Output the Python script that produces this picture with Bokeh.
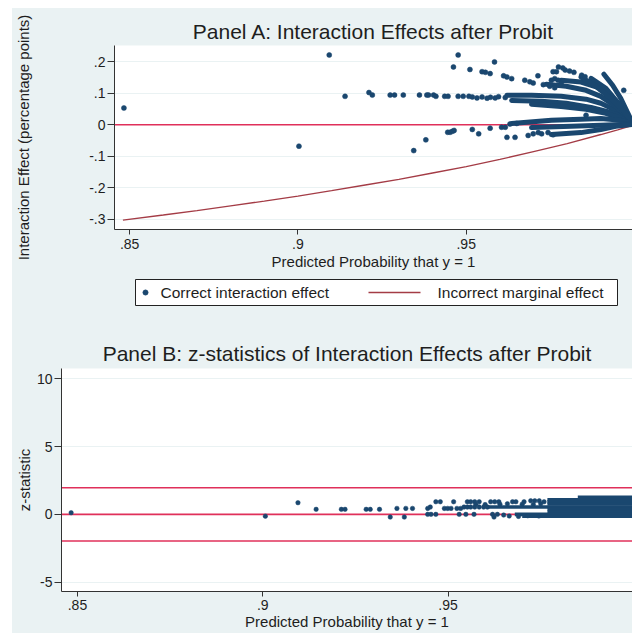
from bokeh.plotting import figure
from bokeh.layouts import column, row
from bokeh.models import Range1d, FixedTicker, Span, Spacer
from bokeh.core.properties import value
from bokeh.embed import file_html
from bokeh.resources import INLINE

# ---------------- data ----------------
x_ticks = [0.85, 0.9, 0.95, 1.0]
x_tick_labels = [".85", ".9", ".95", "1"]
a_y_ticks = [-0.3, -0.2, -0.1, 0.0, 0.1, 0.2]
a_y_tick_labels = ["-.3", "-.2", "-.1", "0", ".1", ".2"]
b_y_ticks = [-5, 0, 5, 10]
b_y_tick_labels = ["-5", "0", "5", "10"]

titles = ["Panel A: Interaction Effects after Probit",
          "Panel B: z-statistics of Interaction Effects after Probit"]
x_title = "Predicted Probability that y = 1"
a_y_title = "Interaction Effect (percentage points)"
b_y_title = "z-statistic"
legend_labels = ["Correct interaction effect", "Incorrect marginal effect"]

# Panel A: correct interaction effect (sparse points)
a_x = [0.8483, 0.9003, 0.9093, 0.9140, 0.9211, 0.9221, 0.9274, 0.9287, 0.9313, 0.9361,
       0.9383, 0.9388, 0.9403, 0.9410, 0.9436, 0.9446, 0.9476, 0.9491, 0.9508, 0.9462,
       0.9476, 0.9511, 0.9344, 0.9380, 0.9445, 0.9452, 0.9459, 0.9464, 0.9547, 0.9557,
       0.9571, 0.9584, 0.9611, 0.9621, 0.9635, 0.9674, 0.9689, 0.9699, 0.9713, 0.9729,
       0.9748, 0.9763, 0.9753, 0.9763, 0.9758, 0.9774, 0.9787, 0.9794, 0.9807, 0.9820,
       0.9843, 0.9853, 0.9968, 0.9856, 0.9518, 0.9532, 0.9547, 0.9562, 0.9572, 0.9586,
       0.9596, 0.9616, 0.9518, 0.9537, 0.9571, 0.9605, 0.9616, 0.9621, 0.9645, 0.9684,
       0.9699, 0.9714, 0.9724, 0.9743, 0.9758, 0.9630, 0.9650, 0.9768, 0.9773, 0.9782]
a_y = [0.053, -0.068, 0.221, 0.090, 0.102, 0.094, 0.094, 0.094, 0.094, 0.094,
       0.094, 0.094, 0.094, 0.090, 0.090, 0.090, 0.090, 0.090, 0.090, 0.183,
       0.221, 0.175, -0.082, -0.048, -0.024, -0.024, -0.021, -0.018, 0.168, 0.166,
       0.162, 0.199, 0.155, 0.151, 0.146, 0.141, 0.136, 0.132, 0.155, 0.127,
       0.122, 0.117, 0.141, 0.146, 0.168, 0.183, 0.180, 0.173, 0.170, 0.166,
       0.157, 0.152, 0.109, 0.030, 0.088, 0.085, 0.088, 0.084, 0.087, 0.085,
       0.089, 0.086, -0.015, -0.029, -0.011, -0.008, -0.008, -0.040, -0.040, -0.034,
       -0.029, -0.025, -0.029, -0.025, -0.032, 0.002, 0.004, 0.168, 0.141, 0.131]

# Panel A: dense fan of interaction effects near p = 1 (traced bands)
fan_x = [
    [0.9621, 0.9694, 0.9782, 0.9856, 0.9900, 0.9944, 0.9974, 0.9994],
    [0.9635, 0.9724, 0.9797, 0.9871, 0.9929, 0.9974, 0.9994],
    [0.9694, 0.9782, 0.9856, 0.9915, 0.9959, 0.9994],
    [0.9738, 0.9797, 0.9856, 0.9900, 0.9944, 0.9974, 0.9994],
    [0.9782, 0.9841, 0.9900, 0.9944, 0.9974, 0.9994],
    [0.9909, 0.9935, 0.9959, 0.9979, 0.9994],
    [0.9871, 0.9915, 0.9950, 0.9976, 0.9994],
    [0.9841, 0.9885, 0.9929, 0.9965, 0.9994],
    [0.9635, 0.9753, 0.9841, 0.9900, 0.9959, 0.9994],
    [0.9694, 0.9812, 0.9900, 0.9959, 0.9994],
    [0.9753, 0.9841, 0.9900, 0.9944, 0.9994],
]
fan_y = [
    [0.093, 0.093, 0.090, 0.081, 0.068, 0.046, 0.026, 0.004],
    [0.077, 0.074, 0.068, 0.055, 0.039, 0.020, 0.004],
    [0.065, 0.058, 0.049, 0.036, 0.020, 0.004],
    [0.128, 0.122, 0.109, 0.090, 0.058, 0.030, 0.004],
    [0.141, 0.135, 0.115, 0.077, 0.039, 0.004],
    [0.160, 0.125, 0.084, 0.039, 0.007],
    [0.147, 0.115, 0.071, 0.033, 0.007],
    [0.151, 0.122, 0.084, 0.046, 0.007],
    [0.004, 0.014, 0.017, 0.020, 0.014, 0.004],
    [-0.009, -0.005, -0.002, 0.001, 0.002],
    [-0.031, -0.025, -0.015, -0.005, 0.001],
]

# Panel A: incorrect marginal effect
me_x = [0.848, 0.86, 0.87, 0.88, 0.89, 0.90, 0.91, 0.92, 0.93, 0.94,
        0.95, 0.96, 0.97, 0.98, 0.99, 0.995, 1.0]
me_y = [-0.302, -0.286, -0.272, -0.257, -0.242, -0.226, -0.209, -0.191, -0.173, -0.153,
        -0.133, -0.110, -0.085, -0.060, -0.031, -0.016, 0.0]
a_ref_lines = [0.0]

# Panel B: z-statistics (sparse points)
b_x = [0.8483, 0.9007, 0.9095, 0.9144, 0.9212, 0.9222, 0.9279, 0.9290, 0.9315, 0.9344,
       0.9362, 0.9382, 0.9386, 0.9404, 0.9445, 0.9452, 0.9445, 0.9454, 0.9467, 0.9467,
       0.9479, 0.9490, 0.9499, 0.9508, 0.9515, 0.9524, 0.9534, 0.9530, 0.9548, 0.9570,
       0.9552, 0.9561, 0.9572, 0.9584, 0.9543, 0.9552, 0.9561, 0.9572, 0.9584, 0.9596,
       0.9606, 0.9615, 0.9626, 0.9637, 0.9620, 0.9624, 0.9633, 0.9674, 0.9683, 0.9705,
       0.9723, 0.9734, 0.9746, 0.9759, 0.9575, 0.9600, 0.9640, 0.9660, 0.9700, 0.9730,
       0.9750, 0.9650, 0.9665, 0.9690, 0.9715, 0.9745]
b_z = [0.12, -0.13, 0.86, 0.37, 0.37, 0.37, 0.37, 0.37, 0.37, -0.20,
       0.44, -0.20, 0.44, 0.44, 0.44, 0.54, 0.0, 0.0, 0.0, 0.93,
       0.93, 0.44, 0.44, 0.44, 0.93, 0.44, 0.44, 0.0, 0.0, 0.0,
       0.93, 0.93, 0.93, 0.93, 0.54, 0.54, 0.54, 0.54, 0.54, 0.54,
       0.54, 0.93, 0.93, 0.93, 0.0, -0.20, 0.0, 0.93, 0.93, 0.93,
       1.0, 1.0, 1.0, 0.93, 0.75, 0.72, 0.75, 0.78, 0.75, 0.72,
       0.78, -0.05, -0.12, -0.15, -0.10, -0.12]

# Panel B: dense block of z-statistics near p = 1 (traced rows)
b_band_x = [[0.9850, 1.0], [0.9768, 1.0], [0.9768, 1.0], [0.9768, 1.0], [0.9606, 1.0],
            [0.9768, 1.0], [0.9768, 1.0], [0.9680, 1.0], [0.9700, 1.0]]
b_band_z = [[1.25, 1.25], [1.08, 1.08], [0.92, 0.92], [0.76, 0.76], [0.54, 0.54],
            [0.38, 0.38], [0.16, 0.16], [0.0, 0.0], [-0.14, -0.14]]
b_ref_lines = [-1.96, 0.0, 1.96]

# ---------------- style ----------------
BG = "#EAF2F3"
NAVY = "#1A476F"
MAROON = "#A43C46"
RED = "#E0305A"
TXT = "#1e1e1e"
FONT = "Liberation Sans"


def style_axes(p, yticks, ylabels, ytitle, ystand):
    p.background_fill_color = "white"
    p.border_fill_color = BG
    p.outline_line_color = None
    p.xaxis.ticker = FixedTicker(ticks=x_ticks)
    p.xaxis.major_label_overrides = dict(zip(x_ticks, x_tick_labels))
    p.yaxis.ticker = FixedTicker(ticks=yticks)
    p.yaxis.major_label_overrides = dict(zip(yticks, ylabels))
    p.xaxis.axis_label = x_title
    p.yaxis.axis_label = ytitle
    for ax in (p.xaxis[0], p.yaxis[0]):
        ax.axis_line_color = "#333333"
        ax.major_tick_line_color = "#333333"
        ax.minor_tick_line_color = None
        ax.major_tick_in = 0
        ax.major_label_text_font = FONT
        ax.major_label_text_font_size = "14px"
        ax.major_label_text_color = TXT
        ax.axis_label_text_font = FONT
        ax.axis_label_text_font_size = "15px"
        ax.axis_label_text_font_style = "normal"
        ax.axis_label_text_color = TXT
    p.xaxis.major_tick_out = 5
    p.yaxis.major_tick_out = 7
    p.xaxis.axis_label_standoff = 1
    p.yaxis.major_label_standoff = 2
    p.yaxis.axis_label_standoff = ystand
    p.xgrid.grid_line_color = None
    p.ygrid.grid_line_color = BG
    p.ygrid.grid_line_width = 1.2
    p.title.text_font = FONT
    p.title.text_font_size = "21px"
    p.title.text_font_style = "normal"
    p.title.text_color = TXT
    p.title.align = "center"
    p.title.offset = 6


W = 620

# ---------------- Panel A ----------------
pa = figure(width=W, height=268, title=titles[0],
            x_range=Range1d(0.8455, 0.9994), y_range=Range1d(-0.332, 0.251),
            min_border_left=97, min_border_right=0, min_border_top=37, min_border_bottom=47,
            frame_align=False, output_backend="svg", toolbar_location=None)
style_axes(pa, a_y_ticks, a_y_tick_labels, a_y_title, 54)
pa.xaxis.major_label_standoff = 4
pa.title.standoff = 6
for v in a_ref_lines:
    pa.add_layout(Span(location=v, dimension="width", line_color=RED, line_width=1.6, level="underlay"))
pa.line(me_x, me_y, line_color=MAROON, line_width=1.3)
pa.multi_line(fan_x, fan_y, line_color=NAVY, line_width=5, line_cap="round", line_join="round")
pa.scatter(a_x, a_y, size=5, marker="circle", fill_color=NAVY, line_color=NAVY, line_width=0.5)

# ---------------- Legend strip ----------------
pl = figure(width=W, height=49, x_range=Range1d(0, 482), y_range=Range1d(0, 26),
            x_axis_type=None, y_axis_type=None,
            min_border_left=123, min_border_right=15, min_border_top=3, min_border_bottom=20,
            frame_align=False, output_backend="svg", toolbar_location=None)
pl.background_fill_color = "white"
pl.border_fill_color = BG
pl.outline_line_color = "#222222"
pl.outline_line_width = 1
pl.grid.visible = False
pl.scatter([10], [13], size=5, marker="circle", fill_color=NAVY, line_color=NAVY)
pl.line([233, 285], [13, 13], line_color=MAROON, line_width=1.3)
pl.text(x=[25, 302], y=[13, 13], text=legend_labels, text_baseline="middle",
        text_font=value(FONT), text_font_size="15.5px", text_color=TXT)

# ---------------- Panel B ----------------
pb = figure(width=W, height=308, title=titles[1],
            x_range=Range1d(0.8457, 0.99976), y_range=Range1d(-5.69, 10.76),
            min_border_left=48, min_border_right=0, min_border_top=43, min_border_bottom=42,
            frame_align=False, output_backend="svg", toolbar_location=None)
style_axes(pb, b_y_ticks, b_y_tick_labels, b_y_title, 1)
pb.xaxis.major_label_standoff = 3
pb.xaxis.axis_label_standoff = 0
pb.title.standoff = 7
for v in b_ref_lines:
    pb.add_layout(Span(location=v, dimension="width", line_color=RED, line_width=1.6, level="underlay"))
pb.multi_line(b_band_x, b_band_z, line_color=NAVY, line_width=3.6)
pb.scatter(b_x, b_z, size=4.5, marker="circle", fill_color=NAVY, line_color=NAVY, line_width=0.5)

panels = column(pa, pl, pb, spacing=0, styles={"background-color": BG})
layout = column(Spacer(height=8, width=632),
                row(Spacer(width=12, height=625), panels, spacing=0),
                spacing=0)
open("out.html", "w").write(file_html(layout, INLINE))
